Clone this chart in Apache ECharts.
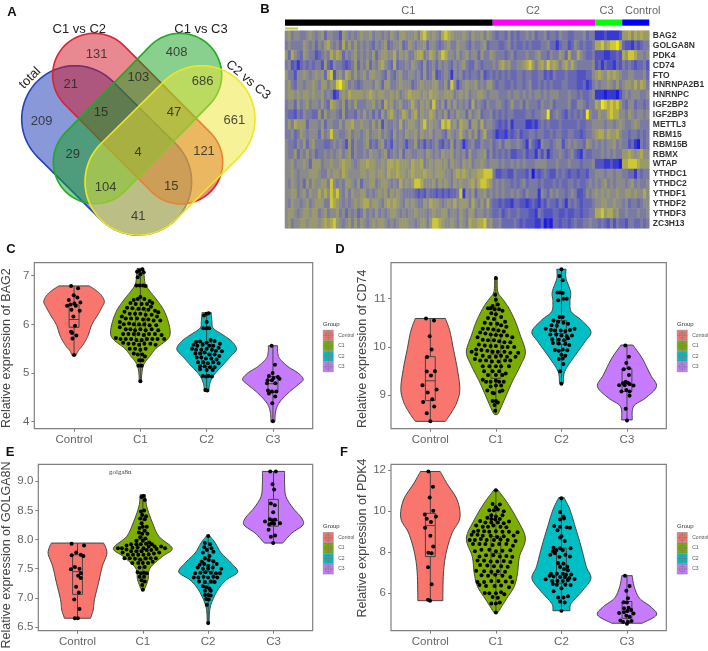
<!DOCTYPE html>
<html>
<head>
<meta charset="utf-8">
<style>html,body{margin:0;background:#fff}#chart{width:708px;height:651px}</style>
<script src="https://cdn.jsdelivr.net/npm/echarts@6/dist/echarts.min.js"></script>
</head>
<body>
<div id="chart"></div>
<script>
const groups = ['Control', 'C1', 'C2', 'C3']
const groupColors = ['#f8766d', '#7cae00', '#00bfc4', '#c77cff']

// venn counts
const vennCounts = [209, 131, 21, 15, 103, 408, 686, 47, 661, 29, 4, 121, 104, 15, 41]

// heatmap: one char per column, 0 = blue, 9 = yellow. C1 (69) C2 (34) C3 (9) Control (9)
const heatGenes = ['BAG2', 'GOLGA8N', 'PDK4', 'CD74', 'FTO', 'HNRNPA2B1', 'HNRNPC', 'IGF2BP2', 'IGF2BP3', 'METTL3', 'RBM15', 'RBM15B', 'RBMX', 'WTAP', 'YTHDC1', 'YTHDC2', 'YTHDF1', 'YTHDF2', 'YTHDF3', 'ZC3H13']
const heatRows = [
  '5645544565 4563554426 5454565564 5545465466 5556478656 5478765556 546556465 4344353434 4545344534 4354433444 5344 111211112 667576766',
  '4544446545 3546754537 4646454543 5456345563 4654556355 4345644655 435445634 4433453433 4343334453 3134423543 4334 778678897 322132344',
  '6375436544 2345475763 5456454546 3566557465 6446774576 4687554645 645536446 5444345344 4544564435 4465374475 4334 222112232 768875545',
  '4523134343 4426325443 2346354635 4675437344 5465436345 3545435456 433543444 5467564455 6786467586 7646757544 4445 231322132 434323342',
  '6442556545 6563782564 7646456466 5543643564 4554536346 2345415453 434435234 3434343344 3443344232 4333433322 2335 676576765 445544453',
  '5643554556 5466465897 6454345554 6536644565 5534565556 6446385245 655645466 4344334344 3453343434 3334433322 3124 545565464 566575764',
  '5665656656 5564541256 5766665676 5665565645 6766656576 6556664565 645566545 5544454554 5454554545 5544454434 3345 111011102 454555445',
  '4553645645 5464376546 3546444556 4537564564 4575465648 5463646454 537454354 4554346445 3544435445 3444453355 4344 769878786 435534434',
  '4332435443 3636455436 3443546453 5364675457 6467465576 4546354655 364563445 3434344333 3443445593 4543243434 3954 465578775 546545545',
  '4647666355 5463554464 6675565546 4625445474 5665468565 5487856476 636647455 4323241333 3112134343 3343333343 3445 555455456 544565444',
  '4453465455 5364585544 5645545645 5645436454 6556465564 5543654575 464635744 3122132342 3344344334 3443344332 3445 677576675 443443434',
  '5443546356 4443345454 2635445634 3563425454 2446342434 5324363541 345335445 3453554454 3153215443 4552454544 3654 545455645 442310434',
  '5446354645 3445454564 5635445465 5456345463 5544554654 5465564545 364455635 3434342233 4233142413 4454345321 4334 445454544 667656755',
  '5564556536 6645565567 6654566766 5565776766 6576674565 6656465546 564556545 5545445454 5444555544 4544454443 4445 222112110 778887666',
  '5565455566 6544656657 6555566566 5665766766 5676667665 6665546767 656677888 4223322433 3240323432 2434323323 3244 555455455 443314344',
  '5465453646 5566485454 6654635566 4566545475 6568875556 4656546565 567578876 4545443434 5344434333 4343344343 3454 545645455 545645445',
  '5566456465 5757586854 6465566454 5656465654 4443232433 2323233481 546355645 4545445454 3544415435 4544345422 3545 656565565 566565575',
  '5465545645 6664487654 5456567756 6546767654 6565446576 6545657566 647546474 3323221332 2123213243 3243143432 3334 556655655 453443455',
  '5665456656 6456455645 3545346454 6454566545 4556555456 5566455465 466455454 3342343343 3322143222 3322322332 3344 778677564 454445445',
  '5645566566 6567678654 5646465456 5665454566 6554566468 8765565465 476677856 4453333432 3222113010 3323323433 4454 434324243 324433434'
]
const annotNames = ['C1', 'C2', 'C3', 'Control']
const annotCounts = [69, 34, 9, 9]
const annotColors = ['#000000', '#ff00ff', '#00ff00', '#0000ff']

// violin outlines as [value, half width] per group
const bag2Violin = [
  [[5.36, .03], [5.45, .06], [5.55, .12], [5.68, .18], [5.8, .22], [6, .27], [6.2, .36], [6.35, .42], [6.47, .457], [6.6, .41], [6.7, .33], [6.79, .23]],
  [[4.83, .02], [4.96, .02], [5.17, .05], [5.34, .14], [5.51, .24], [5.68, .4], [5.82, .45], [6.06, .42], [6.3, .35], [6.5, .25], [6.67, .15], [6.81, .08], [6.95, .06], [7.15, .05]],
  [[4.62, .03], [4.79, .05], [4.96, .11], [5.17, .25], [5.34, .36], [5.49, .45], [5.65, .38], [5.78, .25], [5.92, .1], [6.06, .08], [6.24, .07]],
  [[4, .03], [4.2, .04], [4.38, .09], [4.59, .23], [4.76, .38], [4.87, .457], [5, .38], [5.13, .23], [5.3, .1], [5.44, .07], [5.56, .07]]
]
const cd74Violin = [
  [[8.46, .23], [8.66, .33], [8.87, .41], [9.14, .45], [9.56, .41], [9.97, .35], [10.32, .3], [10.59, .23]],
  [[8.6, .02], [8.66, .05], [8.94, .14], [9.28, .25], [9.63, .38], [9.9, .45], [10.25, .37], [10.52, .3], [10.8, .2], [11, .1], [11.14, .03], [11.43, .02]],
  [[9.25, .03], [9.49, .05], [9.77, .18], [10.11, .36], [10.32, .45], [10.56, .3], [10.73, .15], [10.94, .13], [11.14, .14], [11.42, .07], [11.61, .07]],
  [[8.49, .08], [8.77, .1], [8.94, .28], [9.18, .45], [9.42, .36], [9.77, .23], [10.04, .09]]
]
const golga8nViolin = [
  [[6.65, .2], [6.79, .24], [6.97, .26], [7.25, .32], [7.54, .38], [7.77, .45], [7.94, .4]],
  [[7.13, .02], [7.31, .08], [7.51, .11], [7.71, .3], [7.85, .45], [8.05, .25], [8.28, .15], [8.57, .06], [8.77, .04]],
  [[6.55, .015], [6.74, .02], [6.91, .05], [7.14, .15], [7.31, .28], [7.44, .45], [7.59, .36], [7.77, .2], [7.94, .11], [8.07, .02]],
  [[7.94, .14], [8.11, .28], [8.25, .45], [8.37, .43], [8.54, .3], [8.74, .19], [8.97, .17], [9.17, .17]]
]
const pdk4Violin = [
  [[5.64, .19], [6.98, .2], [7.95, .24], [8.93, .33], [9.66, .45], [10.55, .41], [11.37, .25], [11.94, .15]],
  [[5.06, .03], [5.67, .15], [6.33, .28], [6.98, .33], [7.79, .36], [8.68, .45], [9.58, .33], [10.39, .18], [11.04, .03]],
  [[5.15, .13], [5.51, .15], [6.16, .33], [6.73, .45], [7.3, .38], [8.28, .3], [9.25, .21], [10.07, .13], [10.67, .04]],
  [[4.54, .23], [4.94, .45], [5.35, .36], [5.76, .19], [6.33, .11], [6.86, .08]]
]

// box stats per group: q1, median, q3, whisker low, whisker high
const bag2Box = [[5.94, 6.1, 6.4, 5.36, 6.79], [5.65, 5.97, 6.3, 4.83, 7.15], [5.13, 5.4, 5.63, 4.63, 6.22], [4.6, 4.78, 4.93, 4, 5.55]]
const cd74Box = [[8.89, 9.3, 9.8, 8.46, 10.59], [9.35, 9.85, 10.25, 8.62, 11.43], [10.05, 10.28, 10.55, 9.25, 11.61], [9.08, 9.25, 9.55, 8.46, 10.04]]
const golga8nBox = [[7.06, 7.45, 7.74, 6.65, 7.94], [7.65, 7.82, 8, 7.15, 8.77], [7.25, 7.45, 7.65, 6.57, 8.07], [8.23, 8.33, 8.69, 7.94, 9.17]]
const pdk4Box = [[7.79, 9.3, 9.9, 5.65, 11.94], [6.93, 7.95, 8.76, 5.06, 11.04], [6.49, 7.38, 8.2, 5.15, 10.67], [4.78, 5.1, 5.6, 4.54, 6.86]]

// jittered samples, [group position, value]
const bag2Dots = [
  [.955, 6.79], [1.06, 6.74], [.995, 6.6], [.92, 6.5], [1.05, 6.55], [1.095, 6.45], [1.005, 6.43], [.945, 6.41], [.895, 6.38], [1.025, 6.38], [.96, 6.3], [1.085, 6.28], [.99, 6.16], [1.015, 5.97], [.955, 5.85], [1.035, 5.77], [.975, 5.71], [1, 5.37], [.97, 5.82],
  [1.95, 7.08], [1.98, 7.1], [2.03, 7.13], [2.05, 7.07], [2, 7.03], [1.96, 6.97], [1.94, 6.8], [1.99, 6.8], [2.04, 6.8], [2.08, 6.79], [2, 6.56], [1.9, 6.5], [1.96, 6.52], [2.06, 6.52], [2.14, 6.48], [2.18, 6.44], [1.85, 6.44], [1.93, 6.42], [2.02, 6.42], [2.1, 6.42], [2.16, 6.36], [1.8, 6.34], [1.88, 6.33], [1.97, 6.32], [2.05, 6.32], [2.12, 6.3], [2.22, 6.28], [2.27, 6.25], [1.76, 6.26], [1.84, 6.22], [1.92, 6.22], [2, 6.22], [2.08, 6.2], [2.17, 6.2], [2.25, 6.16], [1.72, 6.16], [1.78, 6.12], [1.86, 6.12], [1.95, 6.12], [2.04, 6.1], [2.12, 6.1], [2.2, 6.08], [2.3, 6.08], [1.69, 6.05], [1.75, 6], [1.83, 6.02], [1.9, 6], [1.98, 6], [2.06, 6], [2.14, 5.98], [2.24, 5.98], [1.69, 5.94], [1.78, 5.9], [1.85, 5.9], [1.92, 5.88], [2, 5.9], [2.08, 5.88], [2.17, 5.9], [2.27, 5.88], [1.74, 5.8], [1.82, 5.8], [1.9, 5.8], [1.97, 5.8], [2.05, 5.78], [2.13, 5.8], [2.22, 5.8], [2.32, 5.78], [1.63, 5.72], [1.7, 5.7], [1.78, 5.7], [1.86, 5.7], [1.94, 5.68], [2.02, 5.68], [2.1, 5.7], [2.18, 5.7], [2.26, 5.7], [2.36, 5.7], [1.74, 5.62], [1.82, 5.6], [1.9, 5.6], [1.98, 5.58], [2.06, 5.6], [2.15, 5.6], [2.23, 5.58], [1.84, 5.5], [1.92, 5.5], [2, 5.48], [2.08, 5.5], [1.9, 5.4], [1.96, 5.38], [2.03, 5.38], [2.07, 5.34], [1.98, 5.26], [2.03, 5.26], [1.97, 5.15], [2.02, 5.15], [2, 4.83],
  [3, 6.22], [2.96, 6.18], [3.03, 6.23], [3, 6.05], [2.95, 5.92], [3, 5.92], [3.04, 5.92], [2.84, 5.64], [2.9, 5.65], [3, 5.62], [3.06, 5.68], [3.12, 5.66], [3.2, 5.6], [2.8, 5.58], [2.86, 5.56], [2.94, 5.58], [3.04, 5.56], [3.1, 5.56], [3.18, 5.52], [2.78, 5.5], [2.84, 5.48], [2.92, 5.48], [3, 5.5], [3.08, 5.48], [3.14, 5.46], [3.23, 5.45], [2.83, 5.4], [2.9, 5.4], [2.97, 5.42], [3.04, 5.38], [3.12, 5.38], [3.19, 5.35], [2.85, 5.32], [2.92, 5.32], [2.99, 5.3], [3.07, 5.3], [3.15, 5.28], [2.87, 5.22], [2.95, 5.22], [3.02, 5.2], [3.1, 5.22], [3.18, 5.2], [2.9, 5.14], [2.97, 5.14], [3.05, 5.12], [3.12, 5.12], [2.9, 5.08], [3, 5.06], [3.09, 5.06], [2.94, 4.94], [2.99, 4.93], [3.03, 4.94], [3.08, 4.93], [2.98, 4.65], [3.01, 4.64],
  [3.98, 5.56], [4.03, 5.17], [3.995, 5], [3.94, 4.94], [4.01, 4.9], [4.075, 4.92], [3.92, 4.85], [4.1, 4.88], [3.985, 4.85], [3.91, 4.79], [4.035, 4.79], [3.925, 4.64], [3.985, 4.62], [4.05, 4.62], [3.94, 4.58], [4.035, 4.52], [3.99, 4.38], [4, 4.01]
]
const cd74Dots = [
  [.934, 10.59], [1.056, 10.55], [.99, 10.22], [1.02, 9.95], [.95, 9.79], [.945, 9.49], [1.07, 9.5], [1.01, 9.41], [.88, 9.21], [1.096, 9.12], [.96, 9.06], [1.03, 8.92], [.89, 8.86], [1.06, 8.77], [.945, 8.63], [1, 8.46],
  [2, 11.43], [1.99, 11.08], [2, 10.98], [2.03, 10.88], [1.95, 10.85], [1.88, 10.8], [1.92, 10.8], [1.98, 10.78], [2.05, 10.78], [2.1, 10.75], [1.93, 10.7], [2, 10.68], [2.08, 10.62], [1.88, 10.6], [1.97, 10.58], [2.14, 10.52], [1.83, 10.5], [1.92, 10.48], [2.02, 10.48], [2.08, 10.45], [2.16, 10.42], [1.8, 10.38], [1.88, 10.38], [1.96, 10.36], [2.04, 10.34], [2.12, 10.32], [1.76, 10.3], [1.84, 10.28], [1.92, 10.26], [2, 10.25], [2.08, 10.24], [2.17, 10.24], [2.25, 10.2], [1.72, 10.2], [1.8, 10.15], [1.88, 10.14], [1.97, 10.14], [2.05, 10.12], [2.13, 10.1], [2.22, 10.1], [1.74, 10.05], [1.83, 10.03], [1.92, 10.02], [2, 10.02], [2.1, 10], [2.18, 10], [2.28, 10], [1.7, 9.95], [1.78, 9.94], [1.87, 9.92], [1.95, 9.9], [2.03, 9.9], [2.13, 9.9], [2.22, 9.88], [2.34, 9.88], [1.63, 9.9], [1.7, 9.85], [1.8, 9.82], [1.9, 9.8], [2, 9.8], [2.08, 9.82], [2.17, 9.8], [2.3, 9.8], [1.68, 9.75], [1.76, 9.72], [1.85, 9.72], [1.94, 9.7], [2.04, 9.7], [2.14, 9.72], [2.22, 9.72], [1.8, 9.6], [1.9, 9.6], [2, 9.6], [2.08, 9.6], [2.2, 9.6], [1.82, 9.5], [1.95, 9.5], [2.05, 9.5], [2.15, 9.45], [1.88, 9.42], [2, 9.42], [2.1, 9.42], [1.8, 9.32], [1.85, 9.28], [1.92, 9.28], [2, 9.3], [2.05, 9.28], [2.12, 9.28], [1.92, 9.18], [2, 9.2], [2.08, 9.2], [1.87, 9.1], [1.95, 9.05], [2.06, 9.08], [2.1, 9.1], [1.97, 9.04], [1.95, 8.88], [2, 8.88], [2.03, 8.85], [1.98, 8.8], [1.99, 8.68],
  [3, 11.61], [2.97, 11.47], [3.02, 11.38], [2.94, 11.13], [2.98, 11.13], [3.02, 11.12], [3.08, 11], [3.03, 11], [2.95, 10.97], [2.97, 10.62], [3.02, 10.62], [2.88, 10.55], [2.95, 10.52], [3.03, 10.5], [2.85, 10.45], [2.93, 10.44], [3.1, 10.48], [3.2, 10.38], [2.76, 10.38], [2.84, 10.35], [2.9, 10.34], [2.99, 10.34], [3.06, 10.33], [3.13, 10.35], [2.83, 10.26], [2.92, 10.26], [3, 10.24], [3.08, 10.22], [3.16, 10.24], [2.86, 10.16], [2.96, 10.15], [3.04, 10.14], [3.1, 10.18], [2.87, 10.08], [2.96, 10.07], [3.06, 10.06], [3.12, 10.04], [2.9, 9.94], [2.96, 9.92], [3.02, 9.95], [3.09, 9.93], [3, 9.84], [3.06, 9.82], [2.96, 9.75], [3.02, 9.76], [3.03, 9.65], [2.98, 9.5], [3, 9.24],
  [3.975, 10.03], [4.03, 9.8], [3.99, 9.67], [3.95, 9.54], [4.03, 9.56], [4.03, 9.42], [3.98, 9.28], [3.94, 9.25], [4.015, 9.26], [3.88, 9.21], [3.965, 9.21], [4.04, 9.23], [4.1, 9.2], [3.915, 9.08], [3.99, 9.11], [4.04, 9.08], [4.04, 8.99], [3.98, 8.72], [4, 8.48]
]
const golga8nDots = [
  [.91, 7.93], [1.1, 7.9], [.98, 7.78], [.91, 7.73], [1.05, 7.74], [1.09, 7.72], [.9, 7.49], [.96, 7.53], [1.03, 7.5], [1.05, 7.42], [1.01, 7.38], [1.05, 7.34], [.98, 7.19], [1.02, 7.09], [.95, 6.97], [1.03, 6.81], [.96, 6.65], [1.005, 6.65],
  [1.98, 8.73], [2.01, 8.75], [2.03, 8.68], [1.97, 8.48], [2.02, 8.5], [1.99, 8.42], [2.05, 8.4], [1.96, 8.36], [2.03, 8.35], [1.98, 8.28], [2, 8.22], [2.06, 8.22], [1.95, 8.2], [2.03, 8.15], [1.94, 8.12], [1.99, 8.1], [2.07, 8.1], [1.96, 8.04], [2.04, 8.02], [1.9, 7.98], [2, 7.98], [2.1, 7.95], [1.82, 7.92], [1.9, 7.92], [1.97, 7.92], [2.05, 7.93], [2.14, 7.92], [1.75, 7.9], [1.84, 7.86], [1.92, 7.87], [2.01, 7.85], [2.09, 7.88], [2.18, 7.88], [2.28, 7.88], [1.62, 7.85], [1.68, 7.85], [1.75, 7.83], [1.82, 7.8], [1.9, 7.8], [1.98, 7.8], [2.06, 7.82], [2.13, 7.82], [2.21, 7.84], [2.34, 7.85], [1.69, 7.78], [1.77, 7.74], [1.85, 7.74], [1.93, 7.74], [2.01, 7.74], [2.09, 7.75], [2.17, 7.76], [2.25, 7.78], [1.72, 7.68], [1.8, 7.68], [1.88, 7.67], [1.96, 7.66], [2.04, 7.68], [2.12, 7.68], [2.2, 7.68], [1.84, 7.6], [1.93, 7.6], [2, 7.6], [2.08, 7.6], [2.15, 7.62], [1.95, 7.52], [2.03, 7.53], [1.92, 7.44], [1.97, 7.42], [2.02, 7.43], [2.06, 7.42], [1.95, 7.36], [2.02, 7.36], [1.98, 7.3], [2.03, 7.28], [1.99, 7.22], [2, 7.14],
  [3, 8.06], [2.95, 7.94], [3.03, 7.92], [2.94, 7.87], [3.05, 7.85], [2.98, 7.82], [2.92, 7.78], [3.08, 7.79], [3.02, 7.72], [2.95, 7.68], [2.9, 7.62], [3.01, 7.65], [3.08, 7.63], [2.87, 7.57], [2.94, 7.58], [3, 7.55], [3.13, 7.58], [2.84, 7.52], [2.92, 7.5], [3, 7.5], [3.07, 7.52], [3.2, 7.5], [2.8, 7.42], [2.88, 7.43], [2.96, 7.44], [3.04, 7.43], [3.12, 7.42], [3.18, 7.42], [2.78, 7.35], [2.85, 7.35], [2.93, 7.36], [3, 7.35], [3.08, 7.36], [3.14, 7.35], [2.86, 7.28], [2.95, 7.27], [3.04, 7.28], [3.1, 7.27], [2.92, 7.2], [2.97, 7.18], [3.02, 7.16], [2.95, 7.12], [3.04, 7.12], [2.95, 7.05], [3, 7.05], [3.04, 7.04], [2.97, 6.98], [3.01, 6.97], [2.98, 6.88], [3, 6.57],
  [3.95, 9.17], [4.035, 9.17], [3.985, 8.95], [4.01, 8.86], [3.96, 8.62], [4.02, 8.59], [3.995, 8.47], [3.945, 8.35], [3.87, 8.31], [3.99, 8.33], [4.025, 8.34], [3.97, 8.28], [4.1, 8.28], [4.01, 8.27], [3.935, 8.26], [3.925, 8.17], [4.025, 8.07], [3.96, 8.05], [3.995, 7.94]
]
const pdk4Dots = [
  [.97, 11.94], [1.04, 11.19], [.99, 10.67], [1.045, 10.03], [.915, 9.84], [.945, 9.63], [1.085, 9.74], [1.01, 9.48], [.92, 9.19], [1, 8.8], [1.045, 8.28], [.97, 7.98], [1.02, 7.95], [.965, 7.27], [1.02, 6.44], [.965, 5.68], [.995, 5.64],
  [2, 11.02], [1.95, 10.35], [2.06, 10.33], [2, 10.2], [1.9, 10.05], [1.97, 10.05], [2.03, 10.08], [2.12, 10.0], [1.93, 9.8], [2, 9.75], [2.1, 9.8], [1.87, 9.68], [1.93, 9.62], [1.99, 9.6], [2.06, 9.62], [2.2, 9.5], [1.76, 9.52], [1.84, 9.45], [1.93, 9.45], [2.03, 9.45], [2.12, 9.42], [1.7, 9.3], [1.8, 9.25], [1.88, 9.25], [1.96, 9.3], [2.07, 9.25], [2.16, 9.22], [1.66, 9], [1.73, 9.05], [1.82, 9.02], [1.9, 9], [2, 9.02], [2.1, 9], [2.2, 9], [2.33, 8.98], [1.63, 8.85], [1.72, 8.85], [1.8, 8.8], [1.92, 8.8], [2.02, 8.75], [2.12, 8.78], [2.27, 8.82], [1.6, 8.6], [1.68, 8.6], [1.77, 8.65], [1.86, 8.6], [1.97, 8.6], [2.07, 8.62], [2.18, 8.6], [2.3, 8.55], [1.65, 8.4], [1.75, 8.4], [1.84, 8.4], [1.95, 8.35], [2.05, 8.4], [2.16, 8.4], [2.26, 8.32], [1.68, 8.05], [1.78, 8.12], [1.9, 8.12], [2, 8.05], [2.1, 8.08], [2.22, 8.1], [1.75, 7.8], [1.85, 7.85], [1.96, 7.85], [2.06, 7.8], [2.16, 7.82], [2.25, 7.78], [1.72, 7.6], [1.82, 7.6], [1.92, 7.55], [2.02, 7.55], [2.12, 7.58], [2.22, 7.52], [1.76, 7.38], [1.87, 7.35], [1.97, 7.32], [2.08, 7.32], [2.18, 7.3], [1.7, 7.1], [1.82, 7.08], [1.93, 7.05], [2.03, 7.08], [2.14, 7.05], [1.78, 6.88], [1.88, 6.85], [1.99, 6.9], [2.1, 6.85], [2.22, 6.8], [1.72, 6.55], [1.82, 6.55], [1.93, 6.6], [2.04, 6.6], [2.15, 6.58], [2.25, 6.55], [1.75, 6.4], [1.85, 6.35], [1.98, 6.35], [2.08, 6.38], [2.2, 6.3], [1.83, 6.02], [1.9, 6], [2, 6], [2.08, 6.05], [2.13, 5.95], [1.95, 5.82], [2.03, 5.78], [1.93, 5.5], [2, 5.5], [2.06, 5.55], [2, 5.06],
  [3, 10.63], [2.98, 9.96], [3.03, 9.75], [2.98, 9.6], [3.04, 9.65], [2.89, 9.28], [2.98, 9.25], [3.08, 9.22], [3.13, 9.2], [2.94, 9.08], [2.98, 8.72], [3, 8.78], [3.05, 8.55], [2.88, 8.22], [2.98, 8.2], [3.14, 8.2], [2.87, 8.05], [2.92, 8.1], [3.02, 8.1], [2.83, 7.88], [2.9, 7.95], [2.97, 7.78], [3.06, 7.88], [3.13, 7.8], [2.95, 7.48], [3.03, 7.45], [3.09, 7.3], [2.98, 7.28], [3.04, 7.18], [3.1, 7.12], [2.84, 6.95], [2.93, 6.95], [3.02, 6.95], [3.07, 6.9], [3.15, 6.92], [2.82, 6.85], [2.88, 6.82], [2.98, 6.8], [3.05, 6.78], [3.12, 6.75], [3.2, 6.7], [2.76, 6.68], [2.86, 6.6], [2.94, 6.6], [3.02, 6.6], [3.1, 6.65], [2.87, 6.45], [2.93, 6.42], [3.06, 6.42], [3.14, 6.4], [2.88, 6.1], [3, 6.25], [3.03, 5.8], [2.95, 5.8], [3.1, 5.85], [2.98, 5.6], [3.05, 5.55], [3, 5.15],
  [3.97, 6.85], [4.04, 6.36], [3.99, 6.13], [4.015, 5.76], [3.95, 5.56], [4, 5.55], [3.955, 5.27], [4.025, 5.3], [4.065, 5.18], [3.88, 5.04], [3.955, 5.07], [4.005, 5.14], [4.1, 5.02], [3.99, 4.91], [4.04, 4.86], [3.9, 4.67], [3.94, 4.6], [4.07, 4.65], [4.015, 4.6], [4, 4.52]
]

const panels = [
  { gene: 'BAG2', violin: bag2Violin, box: bag2Box, dots: bag2Dots, left: 34.3, top: 262.7, width: 278.4, height: 166, yMin: 3.856, yMax: 7.267, ticks: [4, 5, 6, 7], digits: 0, gap: 20.8, shift: [0, 5, 0, 0], legend: [323, 330] },
  { gene: 'CD74', violin: cd74Violin, box: cd74Box, dots: cd74Dots, left: 391, top: 262.7, width: 275.3, height: 166, yMin: 8.308, yMax: 11.745, ticks: [9, 10, 11], digits: 0, gap: 21, shift: [0, 6, 0, 0], legend: [677, 330] },
  { gene: 'GOLGA8N', violin: golga8nViolin, box: golga8nBox, dots: golga8nDots, left: 38.3, top: 464.3, width: 274.4, height: 166.4, yMin: 6.436, yMax: 9.292, ticks: [6.5, 7, 7.5, 8, 8.5, 9], digits: 1, gap: 25, shift: [0, 15, 0, 0], legend: [323, 532.3] },
  { gene: 'PDK4', violin: pdk4Violin, box: pdk4Box, dots: pdk4Dots, left: 391, top: 464.3, width: 275.3, height: 166.4, yMin: 4.176, yMax: 12.29, ticks: [6, 8, 10, 12], digits: 0, gap: 21, shift: [0, 0, 0, 19], legend: [677, 532.3] }
]

// venn stadiums: two cap centres and radius, in page pixels
const vennShapes = [
  { fill: 'rgba(20,50,180,.5)', stroke: '#2244bb', a: [75, 119], b: [138.3, 181.7], r: 53.3 },
  { fill: 'rgba(210,20,35,.5)', stroke: '#dd2233', a: [94.3, 75], b: [181, 162.3], r: 41.7 },
  { fill: 'rgba(20,160,30,.5)', stroke: '#22aa22', a: [180, 75], b: [95, 162], r: 41.7 },
  { fill: 'rgba(237,230,50,.5)', stroke: '#eee622', a: [201.7, 119], b: [138.3, 181.7], r: 53.3 }
]
const vennLabelPos = [[41.7, 121.7], [96.7, 54], [70.7, 84.3], [101, 112.3], [138.3, 77.3], [176.7, 52.7], [202.7, 81.7], [174, 112.7], [234.3, 120], [72.7, 154], [138, 152.3], [204, 151], [105.7, 187.3], [171.3, 186.7], [138.3, 216.7]]

function renderVenn(params, api) {
  const s = vennShapes[params.dataIndex]
  const a = api.coord(s.a), b = api.coord(s.b)
  const t = Math.atan2(b[1] - a[1], b[0] - a[0])
  const pts = []
  for (let i = 0; i <= 40; i++) {
    const u = t + Math.PI / 2 + Math.PI * i / 40
    pts.push([a[0] + s.r * Math.cos(u), a[1] + s.r * Math.sin(u)])
  }
  for (let i = 0; i <= 40; i++) {
    const u = t - Math.PI / 2 + Math.PI * i / 40
    pts.push([b[0] + s.r * Math.cos(u), b[1] + s.r * Math.sin(u)])
  }
  return { type: 'polygon', shape: { points: pts }, style: { fill: s.fill, stroke: s.stroke, lineWidth: 1.6 } }
}

// rounds one side of a violin outline through its read points, ends stay sharp
function roundSide(pts) {
  const out = []
  for (let i = 0; i < pts.length - 1; i++) {
    const p0 = pts[Math.max(i - 1, 0)], p1 = pts[i], p2 = pts[i + 1], p3 = pts[Math.min(i + 2, pts.length - 1)]
    for (let k = 0; k < 8; k++) {
      const t = k / 8, t2 = t * t, t3 = t2 * t
      out.push([0, 1].map((d) => 0.5 * (2 * p1[d] + (p2[d] - p0[d]) * t + (2 * p0[d] - 5 * p1[d] + 4 * p2[d] - p3[d]) * t2 + (3 * p1[d] - p0[d] - 3 * p2[d] + p3[d]) * t3)))
    }
  }
  out.push(pts[pts.length - 1])
  return out
}

function renderViolin(profile, stats, center, color) {
  return (params, api) => {
    const right = roundSide(profile.map((p) => api.coord([center + p[1], p[0]])))
    const left = roundSide(profile.slice().reverse().map((p) => api.coord([center - p[1], p[0]])))
    const lineStyle = { stroke: '#444', lineWidth: 1, fill: null }
    const xl = api.coord([center - 0.075, 0])[0]
    const xr = api.coord([center + 0.075, 0])[0]
    const cx = api.coord([center, 0])[0]
    const y = (v) => api.coord([center, v])[1]
    return {
      type: 'group',
      children: [
        { type: 'polygon', shape: { points: right.concat(left) }, style: { fill: color, stroke: '#444', lineWidth: 1 } },
        { type: 'line', shape: { x1: cx, y1: y(stats[3]), x2: cx, y2: y(stats[0]) }, style: lineStyle },
        { type: 'line', shape: { x1: cx, y1: y(stats[2]), x2: cx, y2: y(stats[4]) }, style: lineStyle },
        { type: 'rect', shape: { x: xl, y: y(stats[2]), width: xr - xl, height: y(stats[0]) - y(stats[2]) }, style: lineStyle },
        { type: 'line', shape: { x1: xl, y1: y(stats[1]), x2: xr, y2: y(stats[1]) }, style: lineStyle }
      ]
    }
  }
}

const axisGray = '#808080'
const grid = panels.map((p) => ({ left: p.left, top: p.top, width: p.width, height: p.height, show: true, borderColor: axisGray, borderWidth: 1.2, backgroundColor: '#fff', outerBoundsMode: 'none' }))
const xAxis = panels.map((p, i) => ({
  type: 'value', gridIndex: i, min: 0.4, max: 4.6, splitLine: { show: false },
  axisLine: { show: false },
  axisTick: { show: true, length: 3, lineStyle: { color: axisGray }, customValues: [1, 2, 3, 4] },
  axisLabel: { color: '#666', fontSize: 11.5, margin: 5, fontFamily: 'Liberation Sans', customValues: [1, 2, 3, 4], formatter: (v) => groups[v - 1] }
}))
const yAxis = panels.map((p, i) => ({
  type: 'value', gridIndex: i, min: p.yMin, max: p.yMax, splitLine: { show: false },
  name: 'Relative expression of ' + p.gene, nameLocation: 'middle', nameGap: p.gap,
  nameTextStyle: { color: '#444', fontSize: 12.5, fontFamily: 'Liberation Sans', padding: p.shift },
  axisLine: { show: false },
  axisTick: { show: true, length: 3, lineStyle: { color: axisGray }, customValues: p.ticks },
  axisLabel: { color: '#666', fontSize: 11.5, margin: 5, fontFamily: 'Liberation Sans', customValues: p.ticks, formatter: (v) => v.toFixed(p.digits) }
}))

// heatmap, annotation bar, venn
grid.push({ left: 285, top: 30.7, width: 364.3, height: 197.6, outerBoundsMode: 'none' })
xAxis.push({ type: 'category', gridIndex: 4, data: heatRows[0].replace(/ /g, '').split('').map((c, i) => i), show: false })
yAxis.push({
  type: 'category', gridIndex: 4, data: heatGenes, inverse: true, position: 'right',
  axisLine: { show: false }, axisTick: { show: false },
  axisLabel: { fontSize: 8.5, fontWeight: 'bold', color: '#333', margin: 3.5, fontFamily: 'Liberation Sans', interval: 0 }
})
grid.push({ left: 285, top: 19.5, width: 364.3, height: 6.2, outerBoundsMode: 'none' })
xAxis.push({ type: 'value', gridIndex: 5, min: 0, max: annotCounts.reduce((a, b) => a + b), show: false })
yAxis.push({ type: 'category', gridIndex: 5, data: ['Group'], show: false })
grid.push({ left: 0, top: 0, width: 270, height: 235, outerBoundsMode: 'none' })
xAxis.push({ type: 'value', gridIndex: 6, min: 0, max: 270, show: false })
yAxis.push({ type: 'value', gridIndex: 6, min: 0, max: 235, inverse: true, show: false })

const heatData = []
heatRows.forEach((row, r) => row.replace(/ /g, '').split('').forEach((c, col) => heatData.push([col, r, +c])))

const series = [
  { type: 'heatmap', xAxisIndex: 4, yAxisIndex: 4, data: heatData, silent: true, progressive: 0 },
  { type: 'custom', xAxisIndex: 6, yAxisIndex: 6, data: vennShapes.map((s) => s.a), renderItem: renderVenn, silent: true, clip: false, z: 3 },
  {
    type: 'scatter', xAxisIndex: 6, yAxisIndex: 6, symbolSize: 0, silent: true, z: 5,
    data: vennLabelPos.map((p, i) => [p[0], p[1], vennCounts[i]]),
    label: { show: true, position: 'inside', formatter: (p) => p.value[2], color: '#222', fontSize: 13, fontFamily: 'Liberation Sans' }
  }
]
const annotOffsets = [[19.5, 0], [-11, 0], [-2, 0], [7, 0]]
annotNames.forEach((name, i) => series.push({
  type: 'bar', xAxisIndex: 5, yAxisIndex: 5, stack: 'annot', barWidth: '100%', data: [annotCounts[i]], silent: true,
  itemStyle: { color: annotColors[i] },
  label: { show: true, position: 'top', distance: 3, offset: annotOffsets[i], formatter: name, color: '#666', fontSize: 11, fontFamily: 'Liberation Sans' }
}))
panels.forEach((p, pi) => {
  groups.forEach((g, gi) => series.push({
    type: 'custom', name: g, xAxisIndex: pi, yAxisIndex: pi, silent: true, z: 2,
    data: [[gi + 1, p.box[gi][1]]], encode: { x: 0, y: 1 },
    itemStyle: { color: groupColors[gi] },
    renderItem: renderViolin(p.violin[gi], p.box[gi], gi + 1, groupColors[gi])
  }))
  series.push({ type: 'scatter', xAxisIndex: pi, yAxisIndex: pi, data: p.dots, symbolSize: 4, silent: true, z: 4, itemStyle: { color: '#000', opacity: 1 } })
})

const keyIcon = 'path://M0 0H10V10H0Z M2.5 2.5H7.5V7.5H2.5Z M0 5H10 M5 0V10'
const legend = panels.map((p) => ({
  left: p.legend[0], top: p.legend[1], orient: 'vertical', padding: 0, itemGap: 0, itemWidth: 10, itemHeight: 10,
  selectedMode: false, data: groups, icon: keyIcon,
  itemStyle: { borderColor: '#777', borderWidth: 0.5 },
  textStyle: { fontSize: 5, color: '#555', fontFamily: 'Liberation Sans' }
}))

const textEl = (text, x, y, style, rotation) => ({
  type: 'text', x, y, rotation: rotation || 0, silent: true,
  style: Object.assign({ text, fontFamily: 'Liberation Sans', align: 'center', verticalAlign: 'middle', fill: '#222', fontSize: 13 }, style)
})
const letter = { fontWeight: 'bold', fontSize: 13, fill: '#111' }
const graphicElements = [
  textEl('A', 12, 12, letter), textEl('B', 265, 9, letter), textEl('C', 11, 249, letter),
  textEl('D', 340, 249, letter), textEl('E', 10, 452, letter), textEl('F', 344, 452, letter),
  textEl('C1 vs C2', 79.3, 29.3, {}), textEl('C1 vs C3', 201, 29.3, {}),
  textEl('total', 30, 78, {}, Math.PI / 4), textEl('C2 vs C3', 248, 80, {}, -Math.PI * 40 / 180),
  textEl('golga8n', 120.3, 472, { fontFamily: 'Liberation Serif', fontSize: 7, fill: '#444' }),
  { type: 'rect', silent: true, shape: { x: 285, y: 27.5, width: 13, height: 2 }, style: { fill: '#c8c040' } }
]
panels.forEach((p) => graphicElements.push(textEl('Group', p.legend[0], p.legend[1] - 6, { align: 'left', fontSize: 6, fill: '#333' })))

const chart = echarts.init(document.getElementById('chart'), null, { renderer: 'canvas' })
chart.setOption({
  animation: false,
  backgroundColor: '#fff',
  grid, xAxis, yAxis, series, legend,
  visualMap: { show: false, type: 'continuous', seriesIndex: 0, dimension: 2, min: 0, max: 9, inRange: { color: ['#1c1ce0', '#5a5ac0', '#84849a', '#a4a258', '#ece414'] } },
  graphic: { elements: graphicElements }
})
</script>
</body>
</html>
